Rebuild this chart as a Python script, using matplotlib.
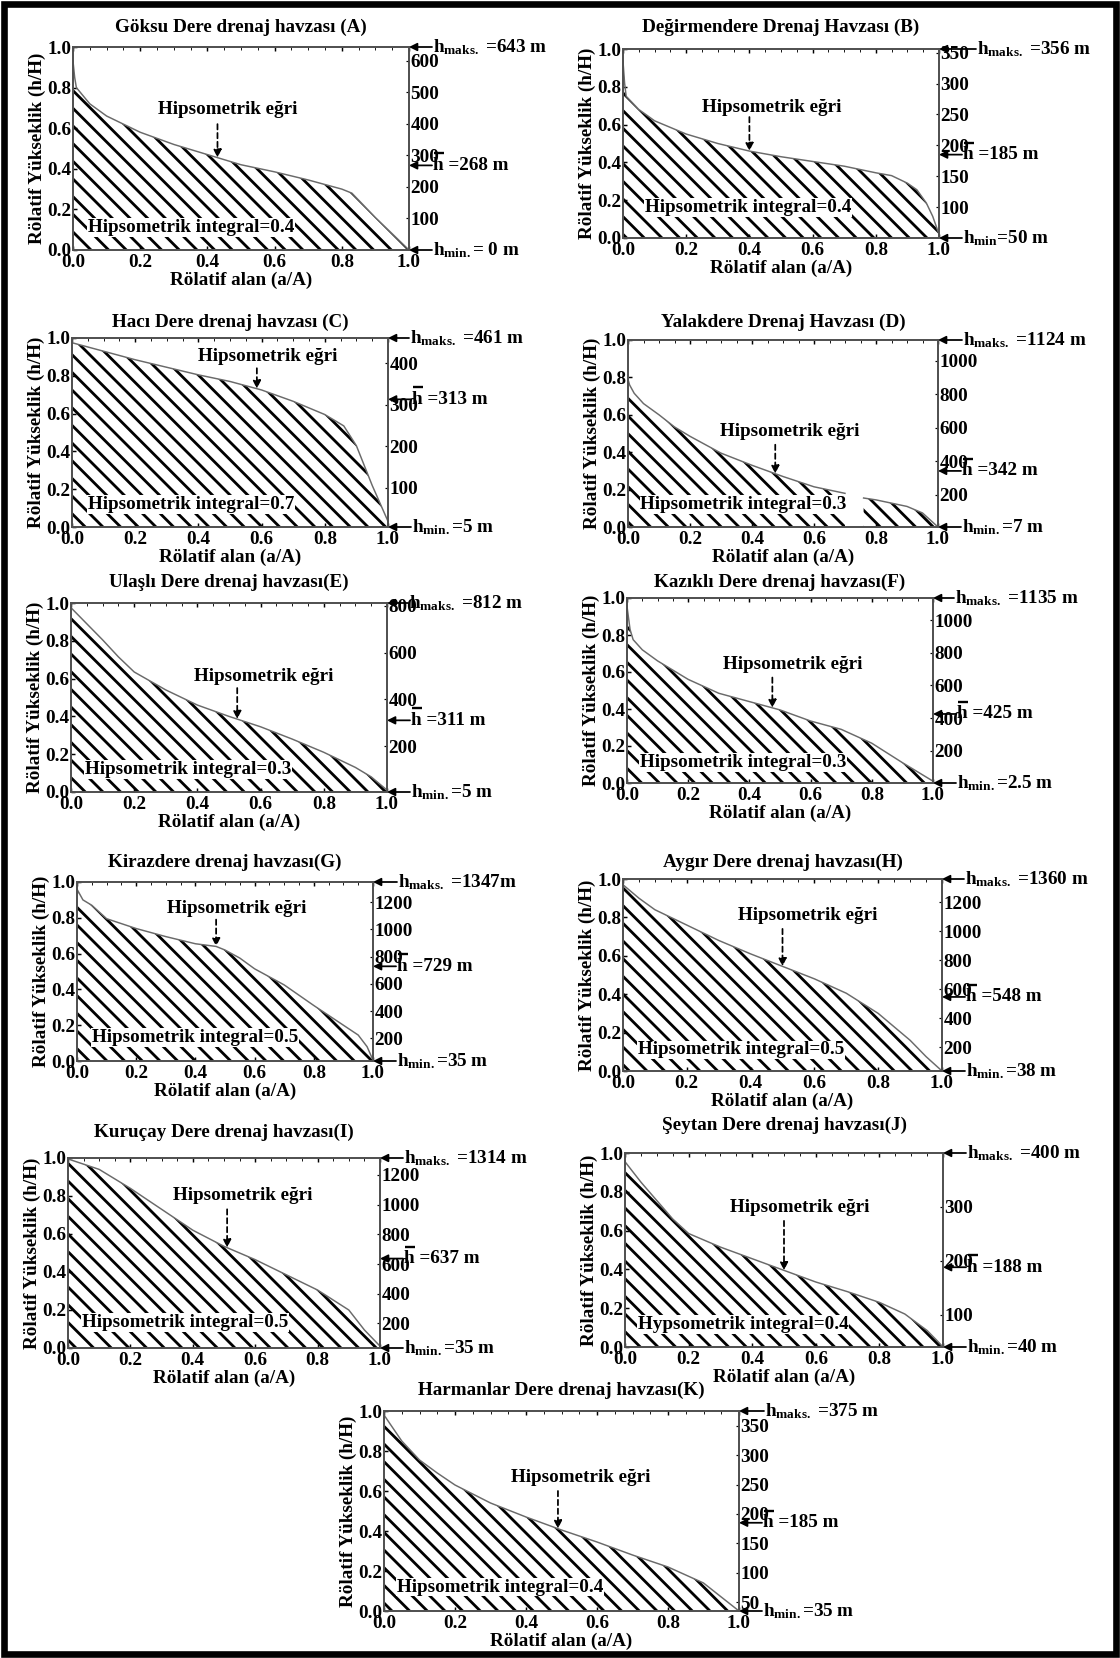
import numpy as np
import matplotlib
matplotlib.use("Agg")
import matplotlib.pyplot as plt
from matplotlib.patches import Rectangle
from matplotlib.ticker import MultipleLocator, FormatStrFormatter
from matplotlib.transforms import offset_copy

plt.rcParams['font.family'] = ['Liberation Serif', 'DejaVu Serif']
plt.rcParams['font.weight'] = 'bold'
plt.rcParams['axes.labelweight'] = 'bold'
plt.rcParams['axes.titleweight'] = 'bold'
plt.rcParams['mathtext.fontset'] = 'custom'
plt.rcParams['mathtext.rm'] = 'Liberation Serif:bold'
plt.rcParams['mathtext.it'] = 'Liberation Serif:bold'
plt.rcParams['mathtext.bf'] = 'Liberation Serif:bold'
plt.rcParams['hatch.linewidth'] = 1.9

# ---------------- data ----------------
titles = [
    "Göksu Dere drenaj havzası (A)",
    "Değirmendere Drenaj Havzası (B)",
    "Hacı Dere drenaj havzası (C)",
    "Yalakdere Drenaj Havzası (D)",
    "Ulaşlı Dere drenaj havzası(E)",
    "Kazıklı Dere drenaj havzası(F)",
    "Kirazdere drenaj havzası(G)",
    "Aygır Dere drenaj havzası(H)",
    "Kuruçay Dere drenaj havzası(I)",
    "Şeytan Dere drenaj havzası(J)",
    "Harmanlar Dere drenaj havzası(K)",
]

A_x = [0, 0.005, 0.01, 0.05, 0.1, 0.2, 0.3, 0.4, 0.5, 0.6, 0.7, 0.8, 0.83, 0.9, 0.95, 1.0]
A_y = [0.93, 0.85, 0.80, 0.72, 0.66, 0.58, 0.52, 0.47, 0.42, 0.385, 0.345, 0.30, 0.28, 0.16, 0.08, 0.0]

B_x = [0, 0.005, 0.01, 0.05, 0.1, 0.2, 0.3, 0.4, 0.5, 0.6, 0.7, 0.8, 0.85, 0.9, 0.93, 0.96, 0.98, 1.0]
B_y = [0.935, 0.82, 0.75, 0.68, 0.62, 0.55, 0.50, 0.46, 0.43, 0.405, 0.38, 0.345, 0.33, 0.29, 0.255, 0.185, 0.115, 0.02]

C_x = [0, 0.1, 0.2, 0.3, 0.4, 0.5, 0.6, 0.7, 0.8, 0.86, 0.9, 0.95, 1.0]
C_y = [0.975, 0.93, 0.885, 0.845, 0.805, 0.77, 0.725, 0.665, 0.595, 0.535, 0.43, 0.22, 0.03]

D_x = [0, 0.005, 0.02, 0.05, 0.1, 0.15, 0.2, 0.3, 0.4, 0.5, 0.6, 0.7, 0.73, 0.76, 0.8, 0.9, 0.95, 1.0]
D_y = [0.79, 0.76, 0.715, 0.66, 0.60, 0.535, 0.485, 0.395, 0.33, 0.27, 0.215, 0.18, np.nan, 0.155, 0.145, 0.11, 0.075, 0.0]

E_x = [0, 0.05, 0.1, 0.15, 0.2, 0.3, 0.4, 0.5, 0.6, 0.7, 0.8, 0.9, 0.95, 1.0]
E_y = [0.975, 0.89, 0.805, 0.715, 0.635, 0.54, 0.46, 0.40, 0.345, 0.28, 0.21, 0.13, 0.08, 0.01]

F_x = [0, 0.01, 0.02, 0.05, 0.1, 0.2, 0.3, 0.4, 0.5, 0.6, 0.7, 0.8, 0.9, 1.0]
F_y = [0.955, 0.83, 0.775, 0.72, 0.66, 0.56, 0.485, 0.44, 0.395, 0.335, 0.29, 0.215, 0.11, 0.01]

G_x = [0, 0.02, 0.05, 0.1, 0.2, 0.3, 0.4, 0.47, 0.5, 0.55, 0.6, 0.7, 0.8, 0.9, 0.95, 0.98, 1.0]
G_y = [0.96, 0.90, 0.87, 0.795, 0.74, 0.695, 0.655, 0.64, 0.62, 0.575, 0.515, 0.425, 0.31, 0.20, 0.145, 0.08, 0.005]

H_x = [0, 0.05, 0.1, 0.2, 0.3, 0.4, 0.5, 0.6, 0.7, 0.8, 0.9, 0.95, 1.0]
H_y = [0.97, 0.90, 0.84, 0.76, 0.68, 0.61, 0.545, 0.48, 0.405, 0.30, 0.16, 0.075, 0.0]

I_x = [0, 0.1, 0.2, 0.3, 0.4, 0.5, 0.6, 0.7, 0.8, 0.9, 0.95, 1.0]
I_y = [0.995, 0.94, 0.84, 0.73, 0.62, 0.535, 0.465, 0.385, 0.305, 0.20, 0.095, 0.01]

J_x = [0, 0.05, 0.1, 0.15, 0.2, 0.3, 0.4, 0.5, 0.6, 0.7, 0.8, 0.88, 0.95, 0.98, 1.0]
J_y = [0.955, 0.85, 0.755, 0.66, 0.585, 0.515, 0.455, 0.395, 0.335, 0.285, 0.23, 0.17, 0.085, 0.035, 0.0]

K_x = [0, 0.05, 0.1, 0.15, 0.2, 0.3, 0.4, 0.5, 0.6, 0.7, 0.8, 0.9, 0.95, 1.0]
K_y = [0.98, 0.85, 0.755, 0.69, 0.63, 0.54, 0.47, 0.405, 0.345, 0.28, 0.22, 0.14, 0.07, 0.0]

curves_x = [A_x, B_x, C_x, D_x, E_x, F_x, G_x, H_x, I_x, J_x, K_x]
curves_y = [A_y, B_y, C_y, D_y, E_y, F_y, G_y, H_y, I_y, J_y, K_y]

h_max = [643, 356, 461, 1124, 812, 1135, 1347, 1360, 1314, 400, 375]
h_mean = [268, 185, 313, 342, 311, 425, 729, 548, 637, 188, 185]
h_min = [0, 50, 5, 7, 5, 2.5, 35, 38, 35, 40, 35]
h_max_txt = ["=643 m", "=356 m", "=461 m", "=1124 m", "=812 m", "=1135 m", "=1347m",
             "=1360 m", "=1314 m", "=400 m", "=375 m"]
h_mean_txt = ["=268 m", "=185 m", "=313 m", "=342 m", "=311 m", "=425 m", "=729 m",
              "=548 m", "=637 m", "=188 m", "=185 m"]
h_min_txt = ["= 0 m", "=50 m", "=5 m", "=7 m", "=5 m", "=2.5 m", "=35 m", "=38 m",
             "=35 m", "=40 m", "=35 m"]
min_sub = ["min.", "min", "min.", "min.", "min.", "min.", "min.", "min.", "min.", "min.", "min."]
right_ticks = [
    [100, 200, 300, 400, 500, 600],
    [100, 150, 200, 250, 300, 350],
    [100, 200, 300, 400],
    [200, 400, 600, 800, 1000],
    [200, 400, 600, 800],
    [200, 400, 600, 800, 1000],
    [200, 400, 600, 800, 1000, 1200],
    [200, 400, 600, 800, 1000, 1200],
    [200, 400, 600, 800, 1000, 1200],
    [100, 200, 300],
    [50, 100, 150, 200, 250, 300, 350],
]
integral_txt = ["Hipsometrik integral=0.4", "Hipsometrik integral=0.4", "Hipsometrik integral=0.7",
                "Hipsometrik integral=0.3", "Hipsometrik integral=0.3", "Hipsometrik integral=0.3",
                "Hipsometrik integral=0.5", "Hipsometrik integral=0.5", "Hipsometrik integral=0.5",
                "Hypsometrik integral=0.4", "Hipsometrik integral=0.4"]

# ---------------- layout (pixels in the 1120x1658 canvas) ----------------
W, H = 1120, 1658
DPI = 106
# left, right, top, bottom
boxes = [
    (73, 409, 47, 250), (623, 939, 49, 238),
    (72, 388, 338, 527), (628, 938, 340, 527),
    (71, 387, 603, 792), (627, 933, 598, 783),
    (77, 373, 882, 1061), (623, 942, 879, 1071),
    (68, 380, 1158, 1348), (625, 943, 1153, 1347),
    (384, 739, 1411, 1611),
]
title_pad_px = [15, 17, 11, 13, 16, 11, 15, 12, 21, 23, 16]
max_off_px = [24, 38, 22, 25, 22, 22, 25, 23, 24, 24, 26]
# curve label: text x, text y, arrow x, arrow top y
egri_pos = [
    (0.46, 0.69, 0.43, 0.62), (0.47, 0.69, 0.40, 0.64),
    (0.62, 0.90, 0.585, 0.84), (0.52, 0.51, 0.475, 0.44),
    (0.61, 0.61, 0.526, 0.55), (0.54, 0.64, 0.475, 0.57),
    (0.54, 0.85, 0.47, 0.79), (0.58, 0.81, 0.50, 0.74),
    (0.56, 0.80, 0.51, 0.73), (0.55, 0.72, 0.50, 0.65),
    (0.555, 0.665, 0.49, 0.60),
]
integral_pos = [(0.045, 0.11), (0.07, 0.16), (0.05, 0.12), (0.04, 0.12), (0.045, 0.12),
                (0.043, 0.11), (0.05, 0.13), (0.047, 0.11), (0.045, 0.135), (0.04, 0.115),
                (0.036, 0.12)]

FS = 13
px2pt = 72.0 / DPI

fig = plt.figure(figsize=(W / DPI, H / DPI), dpi=DPI)
fig.patch.set_facecolor('white')

spine_col = '#505050'
curve_col = '#6a6a6a'


def right_note(tw, yval, label, off=24):
    tw.annotate('', xy=(1.0, yval), xycoords=('axes fraction', 'data'),
                xytext=(off - 1, 0), textcoords='offset pixels',
                arrowprops=dict(arrowstyle='-|>', color='black', lw=1.2,
                                shrinkA=0, shrinkB=0, mutation_scale=11),
                annotation_clip=False)
    tw.annotate(label, xy=(1.0, yval), xycoords=('axes fraction', 'data'),
                xytext=(off, 0), textcoords='offset pixels', ha='left', va='center',
                fontsize=FS, fontweight='bold', annotation_clip=False)


for i in range(11):
    l, r, t, b = boxes[i]
    ax = fig.add_axes([l / W, 1 - b / H, (r - l) / W, (b - t) / H])
    x = np.array(curves_x[i], dtype=float)
    y = np.array(curves_y[i], dtype=float)

    ax.fill_between(x, 0, y, facecolor='none', edgecolor='black', hatch='\\\\', linewidth=0)
    ax.plot(x, y, color=curve_col, lw=1.0)

    ax.set_xlim(0, 1)
    ax.set_ylim(0, 1)
    ax.set_xticks([0, 0.2, 0.4, 0.6, 0.8, 1.0])
    ax.set_yticks([0, 0.2, 0.4, 0.6, 0.8, 1.0])
    ax.xaxis.set_major_formatter(FormatStrFormatter('%.1f'))
    ax.yaxis.set_major_formatter(FormatStrFormatter('%.1f'))
    ax.xaxis.set_minor_locator(MultipleLocator(0.05))
    ax.tick_params(axis='both', which='major', direction='in', length=3, width=1,
                   labelsize=FS, pad=1, colors='black')
    ax.tick_params(axis='x', which='major', pad=3, top=True)
    ax.tick_params(axis='x', which='minor', direction='in', length=2, top=True, bottom=False)
    for s in ax.spines.values():
        s.set_color(spine_col)
        s.set_linewidth(1.2)
    ax.set_xlabel('Rölatif alan (a/A)', fontsize=FS, fontweight='bold', labelpad=0)
    ax.set_ylabel('Rölatif Yükseklik (h/H)', fontsize=FS, fontweight='bold', labelpad=1)
    ax.set_title(titles[i], fontsize=FS, fontweight='bold', pad=title_pad_px[i] * px2pt)

    # curve label with dashed arrow
    tx, ty, axx, atop = egri_pos[i]
    ax.text(tx, ty, 'Hipsometrik eğri', ha='center', va='center', fontsize=FS,
            fontweight='bold', zorder=5)
    yc = np.interp(axx, x[~np.isnan(y)], y[~np.isnan(y)])
    ax.annotate('', xy=(axx, yc), xytext=(axx, atop),
                arrowprops=dict(arrowstyle='-|>', linestyle=(0, (3, 2)), color='black',
                                lw=1.2, shrinkA=0, shrinkB=0, mutation_scale=11))

    ix, iy = integral_pos[i]
    ax.text(ix, iy, integral_txt[i], ha='left', va='center', fontsize=FS, fontweight='bold',
            zorder=5, bbox=dict(facecolor='white', edgecolor='none', pad=0.5))

    # right axis in metres
    tw = ax.twinx()
    tw.set_ylim(h_min[i], h_max[i])
    tw.set_yticks(right_ticks[i])
    tw.tick_params(axis='y', direction='in', length=2, labelsize=FS, pad=1)
    for s in tw.spines.values():
        s.set_color(spine_col)
        s.set_linewidth(1.2)

    right_note(tw, h_max[i], r'$\mathrm{h_{maks.}}$ ' + h_max_txt[i], max_off_px[i])
    right_note(tw, h_mean[i], 'h ' + h_mean_txt[i])
    right_note(tw, h_min[i], r'$\mathrm{h_{' + min_sub[i] + r'}}$' + h_min_txt[i])

    # bar over the mean-height "h"
    w = r - l
    tr = offset_copy(tw.get_yaxis_transform(), fig=fig, x=0, y=12, units='dots')
    tw.plot([1 + 24.5 / w, 1 + 35 / w], [h_mean[i], h_mean[i]], transform=tr,
            color='black', lw=1.6, clip_on=False, solid_capstyle='butt')

# outer frame
fig.add_artist(Rectangle((4 / W, 4 / H), 1 - 8 / W, 1 - 8 / H, transform=fig.transFigure,
                         fill=False, edgecolor='black', linewidth=4.5))

fig.savefig('out.png', dpi=DPI, facecolor='white')
